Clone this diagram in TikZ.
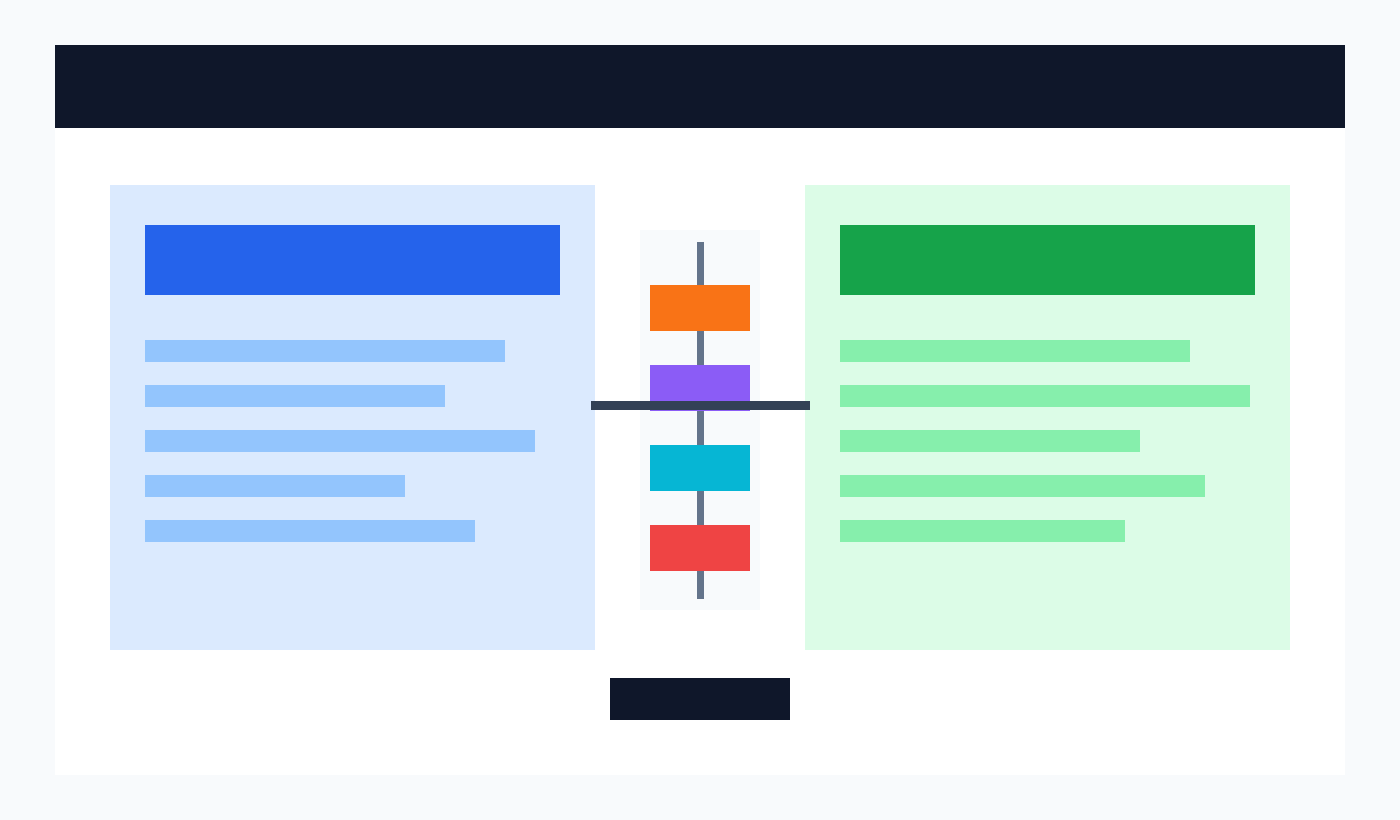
\documentclass[tikz,border=0pt]{standalone}
\usepackage{tikz}

\definecolor{pageBg}{RGB}{248,250,252}
\definecolor{ink}{RGB}{15,23,42}
\definecolor{leftPanel}{RGB}{219,234,254}
\definecolor{leftTitle}{RGB}{37,99,235}
\definecolor{leftLine}{RGB}{147,197,253}
\definecolor{rightPanel}{RGB}{220,252,231}
\definecolor{rightTitle}{RGB}{22,163,74}
\definecolor{rightLine}{RGB}{134,239,172}
\definecolor{spineGrey}{RGB}{100,116,139}
\definecolor{barSlate}{RGB}{51,65,85}
\definecolor{boxOrange}{RGB}{249,115,22}
\definecolor{boxPurple}{RGB}{139,92,246}
\definecolor{boxCyan}{RGB}{6,182,212}
\definecolor{boxRed}{RGB}{239,68,68}

\begin{document}
\begin{tikzpicture}[x=0.75pt,y=0.75pt,yscale=-1,xscale=1]
			%set diagram left start at 0, and has height of 820
			
			%Shape: Rectangle [id:page] 
			\fill [pageBg] (0,0) rectangle (1400,820) ;
			%Shape: Rectangle [id:card] 
			\fill [white] (55,45) rectangle (1345,775) ;
			%Shape: Rectangle [id:header] 
			\fill [ink] (55,45) rectangle (1345,128) ;
			
			%Shape: Rectangle [id:leftPanel] 
			\fill [leftPanel] (110,185) rectangle (595,650) ;
			%Shape: Rectangle [id:leftTitle] 
			\fill [leftTitle] (145,225) rectangle (560,295) ;
			%Shape: Rectangle [id:leftLines] 
			\fill [leftLine] (145,340) rectangle (505,362) ;
			\fill [leftLine] (145,385) rectangle (445,407) ;
			\fill [leftLine] (145,430) rectangle (535,452) ;
			\fill [leftLine] (145,475) rectangle (405,497) ;
			\fill [leftLine] (145,520) rectangle (475,542) ;
			
			%Shape: Rectangle [id:rightPanel] 
			\fill [rightPanel] (805,185) rectangle (1290,650) ;
			%Shape: Rectangle [id:rightTitle] 
			\fill [rightTitle] (840,225) rectangle (1255,295) ;
			%Shape: Rectangle [id:rightLines] 
			\fill [rightLine] (840,340) rectangle (1190,362) ;
			\fill [rightLine] (840,385) rectangle (1250,407) ;
			\fill [rightLine] (840,430) rectangle (1140,452) ;
			\fill [rightLine] (840,475) rectangle (1205,497) ;
			\fill [rightLine] (840,520) rectangle (1125,542) ;
			
			%Shape: Rectangle [id:column] 
			\fill [pageBg] (640,230) rectangle (760,610) ;
			%Straight Lines [id:spine] 
			\coordinate (spineTop) at (700.5,242) ;
			\coordinate (spineBot) at (700.5,599) ;
			\draw [spineGrey, line width=5.25pt] (spineTop) -- (spineBot) ;
			%Shape: Rectangle [id:stageBoxes] 
			\fill [boxOrange] (650,285) rectangle (750,331) ;
			\fill [boxPurple] (650,365) rectangle (750,411) ;
			\fill [boxCyan] (650,445) rectangle (750,491) ;
			\fill [boxRed] (650,525) rectangle (750,571) ;
			%Straight Lines [id:crossBar] 
			\coordinate (barLeft) at (591,405.5) ;
			\coordinate (barRight) at (810,405.5) ;
			\draw [barSlate, line width=6.75pt] (barLeft) -- (barRight) ;
			
			%Shape: Rectangle [id:footerButton] 
			\fill [ink] (610,678) rectangle (790,720) ;
			
\end{tikzpicture}
\end{document}
